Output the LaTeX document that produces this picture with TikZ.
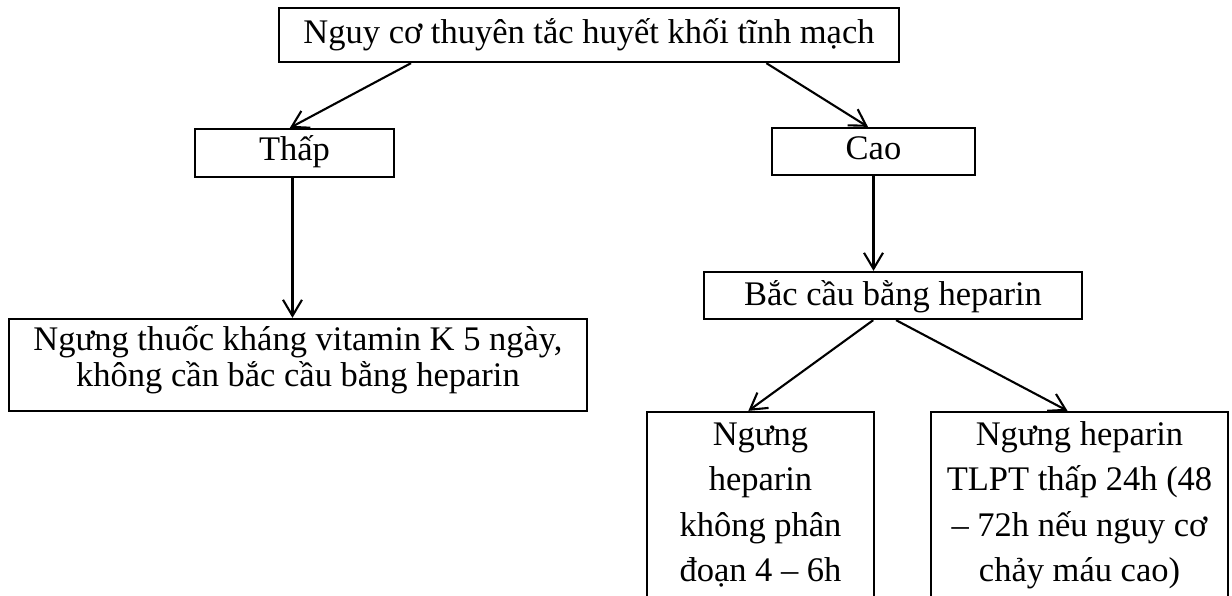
\documentclass[tikz,border=0pt]{standalone}
\usepackage{fontspec}
\setmainfont{Liberation Serif}
\usetikzlibrary{arrows.meta,calc}
\newcommand\mlines[1]{\vtop{\halign{\hfil##\hfil\cr#1\crcr}}}
\begin{document}
\begin{tikzpicture}[x=1pt,y=-1pt,
  box/.style={draw, line width=2.3pt, inner sep=0pt,
    font=\fontsize{34.5}{36}\selectfont},
  tall/.style={box, font=\fontsize{34.5}{45.5}\selectfont},
  arr/.style={line width=2.1pt, -{Straight Barb[length=16pt,width=19pt,line width=2.1pt]}}]
\clip (0,0) rectangle (1232,595);
\node[box, minimum width=620pt, text height=35.3pt, text depth=18.7pt] (top) at (589,35) {Nguy cơ thuyên tắc huyết khối tĩnh mạch};
\node[box, minimum width=199pt, text height=31pt, text depth=17pt] (thap) at (294.5,153) {Thấp};
\node[box, minimum width=203pt, text height=31pt, text depth=16pt] (cao) at (873.5,151.5) {Cao};
\node[box, minimum width=378pt, text height=33pt, text depth=14pt] (bac) at (893,295.5) {Bắc cầu bằng heparin};
\node[box, minimum width=578pt, text height=31pt, text depth=61pt] (kvk) at (298,365) {\mlines{Ngưng thuốc kháng vitamin K 5 ngày,\cr không cần bắc cầu bằng heparin}};
\node[tall, minimum width=227pt, text height=33pt, text depth=200pt] (ufh) at (760.5,528.5) {\mlines{Ngưng\cr heparin\cr không phân\cr đoạn 4 – 6h}};
\node[tall, minimum width=297pt, text height=33pt, text depth=200pt] (lmwh) at (1079.5,528.5) {\mlines{Ngưng heparin\cr TLPT thấp 24h (48\cr – 72h nếu nguy cơ\cr chảy máu cao)}};
\coordinate (ts) at ($(thap.south west)!0.49!(thap.south east)$);
\draw[arr] ($(top.south west)!0.214!(top.south east)$) -- ($(thap.north west)!0.477!(thap.north east)$);
\draw[arr] ($(top.south west)!0.785!(top.south east)$) -- ($(cao.north west)!0.473!(cao.north east)$);
\draw[arr] (ts) -- (ts |- kvk.north);
\draw[arr] (cao.south) -- (cao.south |- bac.north);
\draw[arr] ($(bac.south west)!0.448!(bac.south east)$) -- ($(ufh.north west)!0.447!(ufh.north east)$);
\draw[arr] ($(bac.south west)!0.508!(bac.south east)$) -- ($(lmwh.north west)!0.46!(lmwh.north east)$);
\end{tikzpicture}
\end{document}
